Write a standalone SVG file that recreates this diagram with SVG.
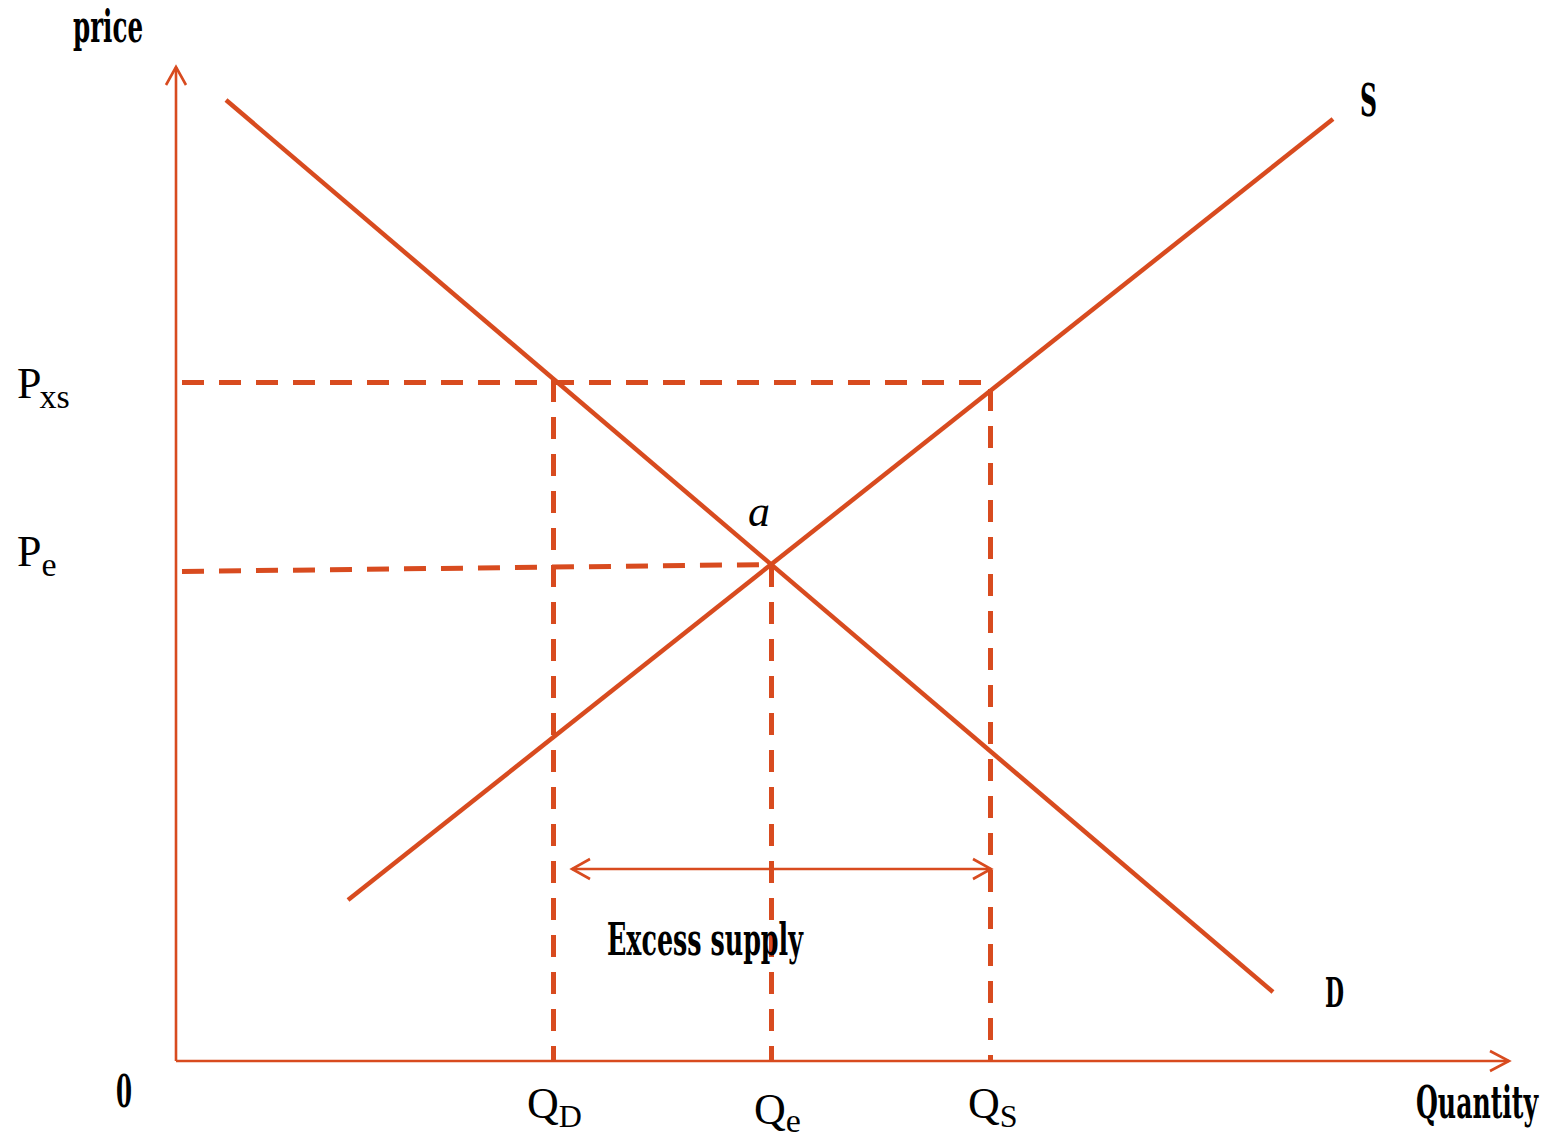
<svg xmlns="http://www.w3.org/2000/svg" width="1546" height="1139" viewBox="0 0 1546 1139">
<style>
.ax{stroke:#D84B1F;stroke-width:2.6;fill:none}
.cv{stroke:#D84B1F;stroke-width:4.5;fill:none}
.ds{stroke:#D84B1F;stroke-width:5;fill:none;stroke-dasharray:22 15}
.hd{stroke:#D84B1F;stroke-width:2.6;fill:none}
.bl{font-family:"DejaVu Serif Condensed","DejaVu Serif",serif;font-weight:bold;fill:#000}
.sr{font-family:"Liberation Serif","DejaVu Serif",serif;fill:#000}
</style>
<rect width="1546" height="1139" fill="#fff"/>
<g id="connectors">
<g id="axes">
<line class="ax" x1="176" y1="1061" x2="176" y2="67"/>
<polyline class="ax" points="166,85 176,67 186,85"/>
<line class="ax" x1="176" y1="1061" x2="1509" y2="1061"/>
<polyline class="ax" points="1490,1051 1509,1061 1490,1071"/>
</g>
<g id="guides">
<line class="ds" x1="182" y1="382.5" x2="990" y2="382.5"/>
<line class="ds" x1="182" y1="571.5" x2="771" y2="564.5"/>
<line class="ds" x1="553.5" y1="380" x2="553.5" y2="1060"/>
<line class="ds" x1="771.5" y1="565" x2="771.5" y2="1060"/>
<line class="ds" x1="990.5" y1="389" x2="990.5" y2="1062"/>
</g>
<g id="excess-arrow">
<line class="hd" x1="572" y1="869" x2="991" y2="869"/>
<polyline class="hd" points="590,859 572,869 590,879"/>
<polyline class="hd" points="973,859 991,869 973,879"/>
</g>
</g>
<g id="demand"><line class="cv" x1="226" y1="100" x2="1273" y2="992"/></g>
<g id="supply"><line class="cv" x1="348" y1="900" x2="1333" y2="119"/></g>
<g id="labels">
<text class="bl" x="73" y="42" font-size="44" textLength="70" lengthAdjust="spacingAndGlyphs">price</text>
<text class="bl" x="1360" y="116" font-size="44" textLength="17" lengthAdjust="spacingAndGlyphs">S</text>
<text class="bl" x="1325" y="1007" font-size="41" textLength="19" lengthAdjust="spacingAndGlyphs">D</text>
<text class="bl" x="116" y="1107" font-size="44" textLength="16" lengthAdjust="spacingAndGlyphs">0</text>
<text class="bl" x="1416" y="1118" font-size="44" textLength="122" lengthAdjust="spacingAndGlyphs">Quantity</text>
<text class="bl" x="607" y="955" font-size="44" textLength="196" lengthAdjust="spacingAndGlyphs">Excess supply</text>
<text class="sr" x="17" y="398" font-size="44">P<tspan font-size="34" dx="-2" dy="10">xs</tspan></text>
<text class="sr" x="17" y="566" font-size="44">P<tspan font-size="34" dy="10">e</tspan></text>
<text class="sr" x="748" y="526" font-size="44" font-style="italic">a</text>
<text class="sr" x="527" y="1118" font-size="44">Q<tspan font-size="32" dy="9">D</tspan></text>
<text class="sr" x="754" y="1124" font-size="44">Q<tspan font-size="34" dy="8">e</tspan></text>
<text class="sr" x="968" y="1118" font-size="44">Q<tspan font-size="32" dy="9">S</tspan></text>
</g>
</svg>
